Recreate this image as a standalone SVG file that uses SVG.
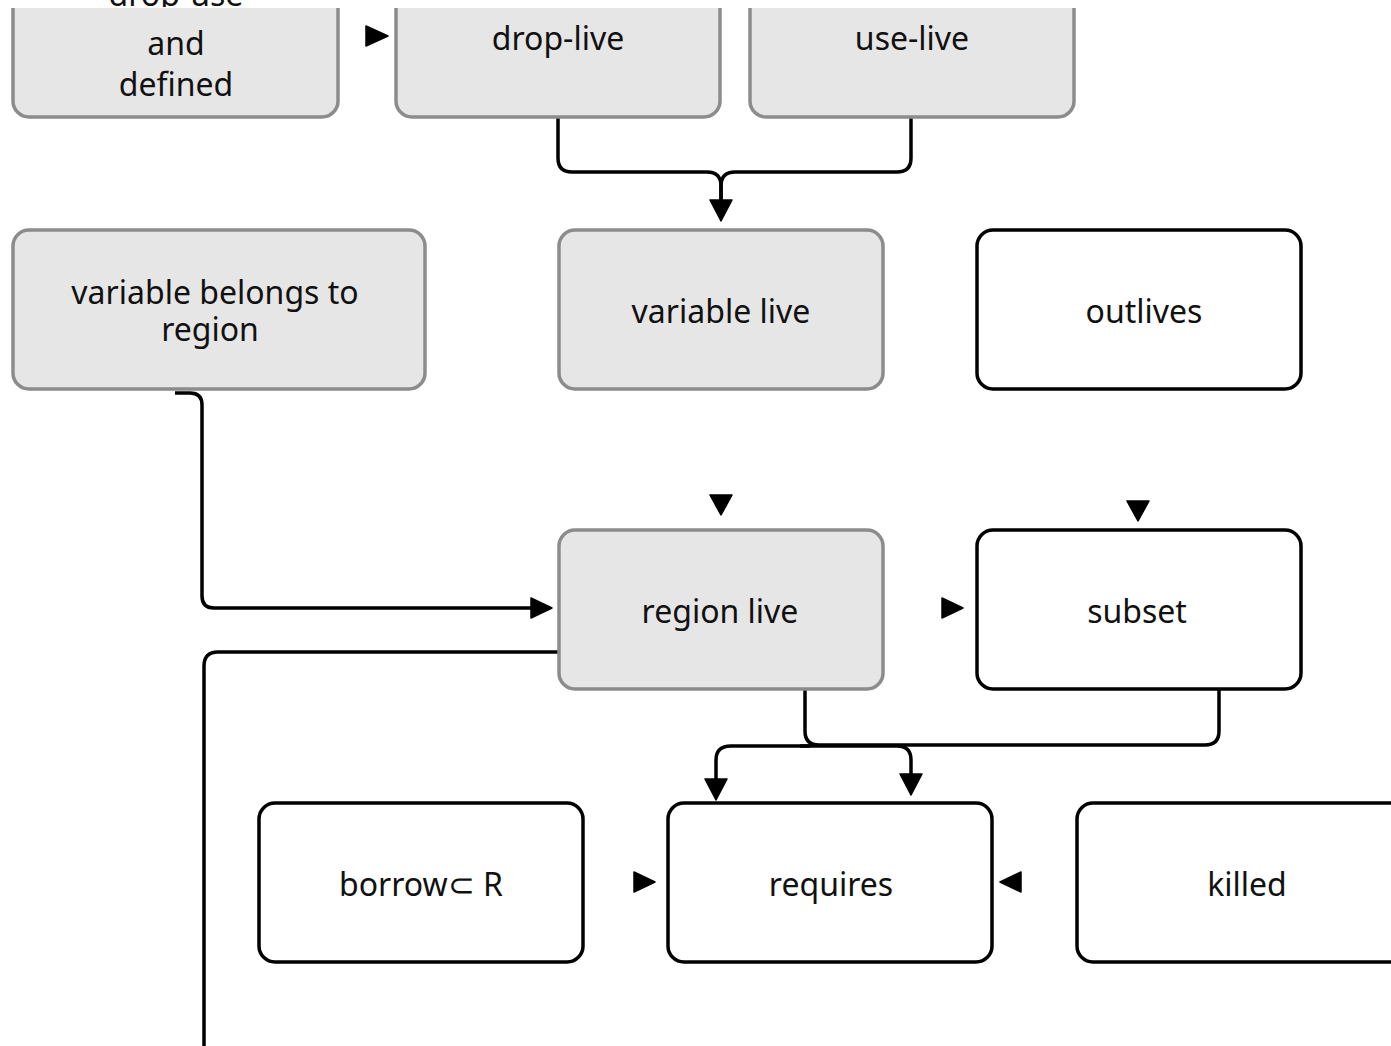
<svg xmlns="http://www.w3.org/2000/svg" width="1391" height="1046" viewBox="0 0 1391 1046">
<style>
  .g rect{fill:#e6e6e6;stroke:#8c8c8c;stroke-width:3.5}
  .w rect{fill:#ffffff;stroke:#000;stroke-width:3.5}
  text{font-family:"Noto Sans","Open Sans",sans-serif;font-size:32px;fill:#111;text-anchor:middle}
  .edge{fill:none;stroke:#000;stroke-width:3.5}
  .ah{fill:#000;stroke:#000;stroke-width:1.5;stroke-linejoin:round}
</style>
<defs>
  <clipPath id="top"><rect x="0" y="8" width="1391" height="1038"/></clipPath>
  <clipPath id="topText"><rect x="0" y="0" width="1391" height="7"/></clipPath>
</defs>
<rect width="1391" height="1046" fill="#fff"/>
<g id="edges">
  <path class="edge" d="M558,117 V158 Q558,172 572,172 H707 Q721,172 721,186 V200"/>
  <path class="edge" d="M911,117 V158 Q911,172 897,172 H735 Q721,172 721,186 V200"/>
  <path class="edge" d="M175,393 H190 Q202,393 202,405 V596 Q202,608 214,608 H531"/>
  <path class="edge" d="M558,652 H218 Q204,652 204,666 V1046"/>
  <path class="edge" d="M805,689 V731 Q805,745 819,745 H1205 Q1219,745 1219,731 V689"/>
  <path class="edge" d="M810,746 H731 Q716,746 716,760 V779"/>
  <path class="edge" d="M800,746 H897 Q911,746 911,760 V774"/>
  <polygon class="ah" points="366,26 388,36 366,46"/>
  <polygon class="ah" points="710,200 732,200 721,221"/>
  <polygon class="ah" points="710,495 732,495 721,515"/>
  <polygon class="ah" points="1127,501 1149,501 1138,521"/>
  <polygon class="ah" points="531,598 552,608 531,618"/>
  <polygon class="ah" points="942,598 963,608 942,618"/>
  <polygon class="ah" points="705,779 727,779 716,800"/>
  <polygon class="ah" points="900,774 922,774 911,795"/>
  <polygon class="ah" points="634,872 655,882 634,892"/>
  <polygon class="ah" points="1021,872 1000,882 1021,892"/>
</g>
<g id="node-drop-use" class="g">
  <rect x="13" y="-43" width="325" height="160" rx="16" clip-path="url(#top)"/>
  <text x="176" y="6" clip-path="url(#topText)">drop-use</text>
  <text x="176" y="55">and</text>
  <text x="176" y="96">defined</text>
</g>
<g id="node-drop-live" class="g">
  <rect x="396" y="-43" width="324" height="160" rx="16" clip-path="url(#top)"/>
  <text x="558" y="50">drop-live</text>
</g>
<g id="node-use-live" class="g">
  <rect x="750" y="-43" width="324" height="160" rx="16" clip-path="url(#top)"/>
  <text x="912" y="50">use-live</text>
</g>
<g id="node-variable-belongs" class="g">
  <rect x="13" y="230" width="412" height="159" rx="16"/>
  <text x="215" y="304">variable belongs to</text>
  <text x="210" y="341">region</text>
</g>
<g id="node-variable-live" class="g">
  <rect x="559" y="230" width="324" height="159" rx="16"/>
  <text x="721" y="323">variable live</text>
</g>
<g id="node-outlives" class="w">
  <rect x="977" y="230" width="324" height="159" rx="16"/>
  <text x="1144" y="323">outlives</text>
</g>
<g id="node-region-live" class="g">
  <rect x="559" y="530" width="324" height="159" rx="16"/>
  <text x="720" y="623">region live</text>
</g>
<g id="node-subset" class="w">
  <rect x="977" y="530" width="324" height="159" rx="16"/>
  <text x="1137" y="623">subset</text>
</g>
<g id="node-borrow" class="w">
  <rect x="259" y="803" width="324" height="159" rx="16"/>
  <text x="421" y="896">borrow⊂ R</text>
</g>
<g id="node-requires" class="w">
  <rect x="668" y="803" width="324" height="159" rx="16"/>
  <text x="831" y="896">requires</text>
</g>
<g id="node-killed" class="w">
  <rect x="1077" y="803" width="340" height="159" rx="16"/>
  <text x="1247" y="896">killed</text>
</g>
</svg>
